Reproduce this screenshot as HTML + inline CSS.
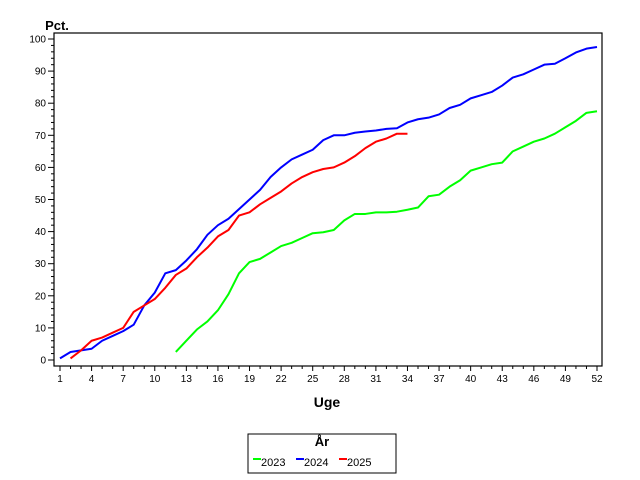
<!DOCTYPE html>
<html><head><meta charset="utf-8"><style>
body{margin:0;background:#fff;}
svg{display:block;font-family:"Liberation Sans",sans-serif;}
</style></head><body>
<svg id="chart" width="640" height="480" xmlns="http://www.w3.org/2000/svg">
<rect x="0" y="0" width="640" height="480" fill="#fff"/>
<rect x="54" y="33" width="548" height="333" fill="none" stroke="#000" stroke-width="1.2"/>
<g id="axes"></g>
<g id="series"></g>
<text x="57" y="30" font-size="13" font-weight="bold" text-anchor="middle">Pct.</text>
<text x="327" y="407" font-size="14" font-weight="bold" text-anchor="middle">Uge</text>
<g>
<rect x="248" y="434" width="148" height="39" fill="none" stroke="#000"/>
<text x="322" y="446" font-size="13" font-weight="bold" text-anchor="middle">År</text>
<g><line x1="253" y1="459" x2="261" y2="459" stroke="#00ff00" stroke-width="2"/><text x="261" y="466" font-size="11">2023</text></g>
<g><line x1="296" y1="459" x2="304" y2="459" stroke="#0000ff" stroke-width="2"/><text x="304" y="466" font-size="11">2024</text></g>
<g><line x1="339" y1="459" x2="347" y2="459" stroke="#ff0000" stroke-width="2"/><text x="347" y="466" font-size="11">2025</text></g>
</g>
</svg>
<script>
const weeks2023=[12,13,14,15,16,17,18,19,20,21,22,23,24,25,26,27,28,29,30,31,32,33,34,35,36,37,38,39,40,41,42,43,44,45,46,47,48,49,50,51,52];
const values2023=[2.5,6,9.5,12,15.5,20.5,27,30.5,31.5,33.5,35.5,36.5,38,39.5,39.8,40.5,43.5,45.5,45.5,46,46,46.2,46.8,47.5,51,51.5,54,56,59,60,61,61.5,65,66.5,68,69,70.5,72.5,74.5,77,77.5];
const weeks2024=[1,2,3,4,5,6,7,8,9,10,11,12,13,14,15,16,17,18,19,20,21,22,23,24,25,26,27,28,29,30,31,32,33,34,35,36,37,38,39,40,41,42,43,44,45,46,47,48,49,50,51,52];
const values2024=[0.5,2.5,3,3.5,6,7.5,9,11,17,21,27,28,31,34.5,39,42,44,47,50,53,57,60,62.5,64,65.5,68.5,70,70,70.8,71.2,71.5,72,72.2,74,75,75.5,76.5,78.5,79.5,81.5,82.5,83.5,85.5,88,89,90.5,92,92.3,94,95.8,97,97.5];
const weeks2025=[2,3,4,5,6,7,8,9,10,11,12,13,14,15,16,17,18,19,20,21,22,23,24,25,26,27,28,29,30,31,32,33,34];
const values2025=[0.5,3,6,7,8.5,10,15,17,19,22.5,26.5,28.5,32,35,38.5,40.5,45,46,48.5,50.5,52.5,55,57,58.5,59.5,60,61.5,63.5,66,68,69,70.5,70.5];
const yTicks=[0,10,20,30,40,50,60,70,80,90,100];
const xTickLabels=[1,4,7,10,13,16,19,22,25,28,31,34,37,40,43,46,49,52];
const NS="http://www.w3.org/2000/svg";
function xs(w){return 60+(w-1)*(597-60)/51;}
function ys(v){return 360-v*(360-39)/100;}
const axes=document.getElementById('axes');
function mk(tag,attrs,parent){const e=document.createElementNS(NS,tag);for(const k in attrs)e.setAttribute(k,attrs[k]);parent.appendChild(e);return e;}
for(let v=0;v<=100;v+=2){
  const major=v%10===0;
  const t=mk('line',{x1:54-(major?6:3),x2:54,y1:ys(v),y2:ys(v),stroke:'#000'},axes);
  
  
}
yTicks.forEach(v=>{
  const t=mk('text',{x:46,y:ys(v)+3.5,'font-size':10,'text-anchor':'end'},axes);
  t.textContent=v;
  
  
});
for(let w=1;w<=52;w++){
  const major=xTickLabels.includes(w);
  const t=mk('line',{x1:xs(w),x2:xs(w),y1:366,y2:366+(major?5:3),stroke:'#000'},axes);
  
  
}
xTickLabels.forEach(w=>{
  const t=mk('text',{x:xs(w),y:382,'font-size':10,'text-anchor':'middle'},axes);
  t.textContent=w;
  
  
});
const ser=document.getElementById('series');
function draw(weeks,vals,color,name){
  const pts=weeks.map((w,i)=>xs(w)+','+ys(vals[i])).join(' ');
  const p=mk('polyline',{points:pts,fill:'none',stroke:color,'stroke-width':2,'stroke-linejoin':'round'},ser);
  
  
}
draw(weeks2023,values2023,'#00ff00','line-2023');
draw(weeks2024,values2024,'#0000ff','line-2024');
draw(weeks2025,values2025,'#ff0000','line-2025');
</script>
</body></html>
